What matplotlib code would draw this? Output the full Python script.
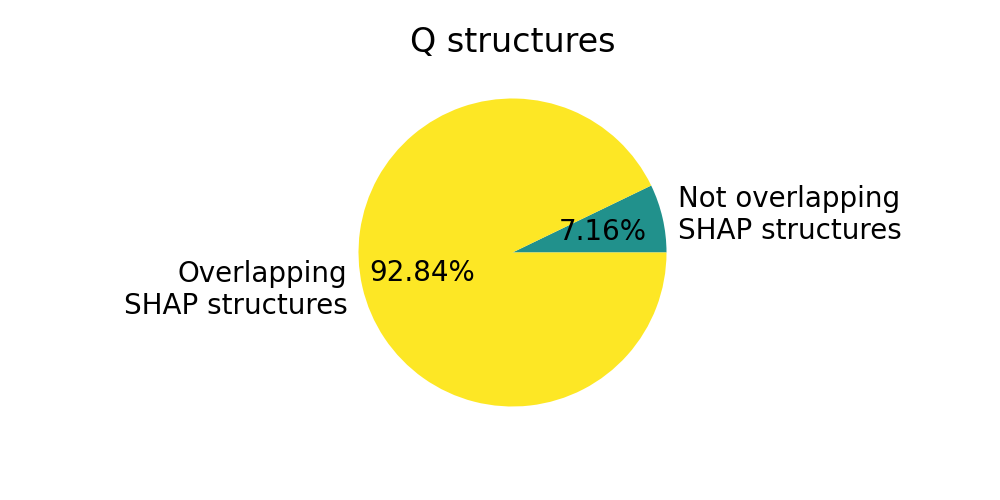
import matplotlib.pyplot as plt

labels = ["Not overlapping\nSHAP structures", "Overlapping\nSHAP structures"]
shares = [7.16, 92.84]
colors = ["#21918c", "#fde725"]

fig, ax = plt.subplots(figsize=(10, 5))
ax.pie(shares, labels=labels, colors=colors, autopct="%.2f%%",
       textprops={"fontsize": 20})
ax.set_title("Q structures", fontsize=24)
fig.savefig("out.png", dpi=100)
